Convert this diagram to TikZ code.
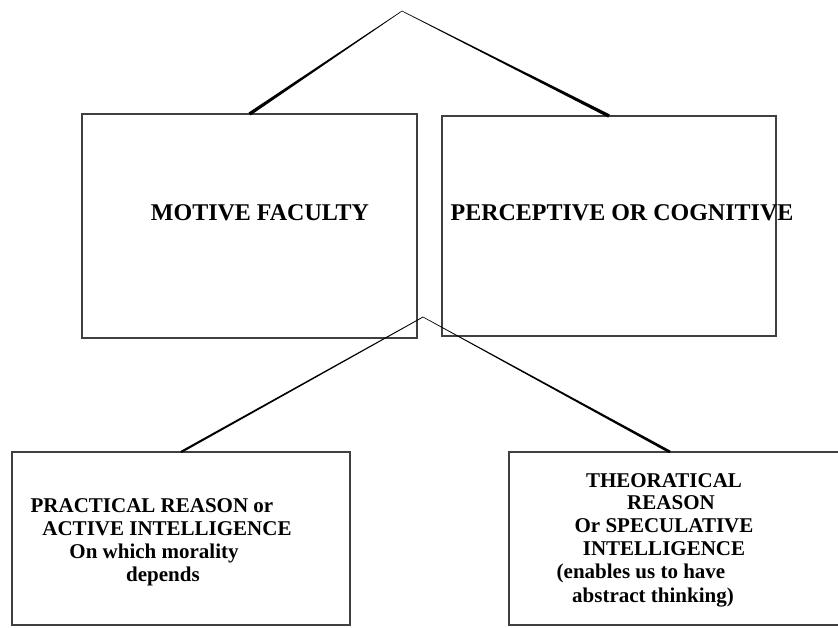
\documentclass[tikz,border=0pt]{standalone}
\usepackage{fontspec}
\setmainfont{Liberation Serif}
\usetikzlibrary{calc}
\tikzset{
  boxnode/.style={draw=black!75, line width=1.1pt, minimum width=#1, inner sep=0pt, outer sep=0pt},
  bigtext/.style={anchor=base, inner sep=0pt, font=\fontsize{24}{28}\selectfont\bfseries},
  smalltext/.style={anchor=base, inner sep=0pt, font=\fontsize{21}{25}\selectfont\bfseries},
  taper/.style={fill=black, draw=none}
}
\newcommand{\taperline}[4]{%
  \fill[taper] ($(#1)!#3!90:(#2)$) -- ($(#2)!#4!-90:(#1)$) -- ($(#2)!#4!90:(#1)$) -- ($(#1)!#3!-90:(#2)$) -- cycle;}
\begin{document}
\begin{tikzpicture}[x=1pt,y=-1pt]
\clip (0,0) rectangle (838,627);
\fill[white] (0,0) rectangle (838,627);
% boxes
\node[boxnode=335pt, minimum height=224pt] (mot) at (249.5,226) {};
\node[boxnode=334pt, minimum height=220pt] (per) at (609,226) {};
\node[boxnode=338pt, minimum height=173pt] (pra) at (181,538.5) {};
\node[boxnode=340pt, minimum height=173pt] (the) at (679,538.5) {};
% apex coordinates and attachment point
\coordinate (top) at (402,11);
\coordinate (mid) at (423,317);
\coordinate (theatt) at ($(the.north west)+(161pt,0)$);
% connectors
\taperline{top}{mot.north}{0.3pt}{1.7pt}
\taperline{top}{per.north}{0.3pt}{1.7pt}
\taperline{mid}{pra.north}{0.4pt}{1.1pt}
\taperline{mid}{theatt}{0.3pt}{1.4pt}
% texts
\node[bigtext] (t1) at (260,220) {MOTIVE FACULTY};
\node[bigtext] (t2) at (622,220) {PERCEPTIVE OR COGNITIVE};
\node[smalltext] (a1) at (152,512) {PRACTICAL REASON or};
\node[smalltext] (a2) at (167,535) {ACTIVE INTELLIGENCE};
\node[smalltext] (a3) at (154,558) {On which morality};
\node[smalltext] (a4) at (163,581) {depends};
\node[smalltext] (b1) at (664,487) {THEORATICAL};
\node[smalltext] (b2) at (671,509) {REASON};
\node[smalltext] (b3) at (664,532) {Or SPECULATIVE};
\node[smalltext] (b4) at (664,555) {INTELLIGENCE};
\node[smalltext] (b5) at (641,578) {(enables us to have};
\node[smalltext] (b6) at (653,602) {abstract thinking)};
\end{tikzpicture}
\end{document}
